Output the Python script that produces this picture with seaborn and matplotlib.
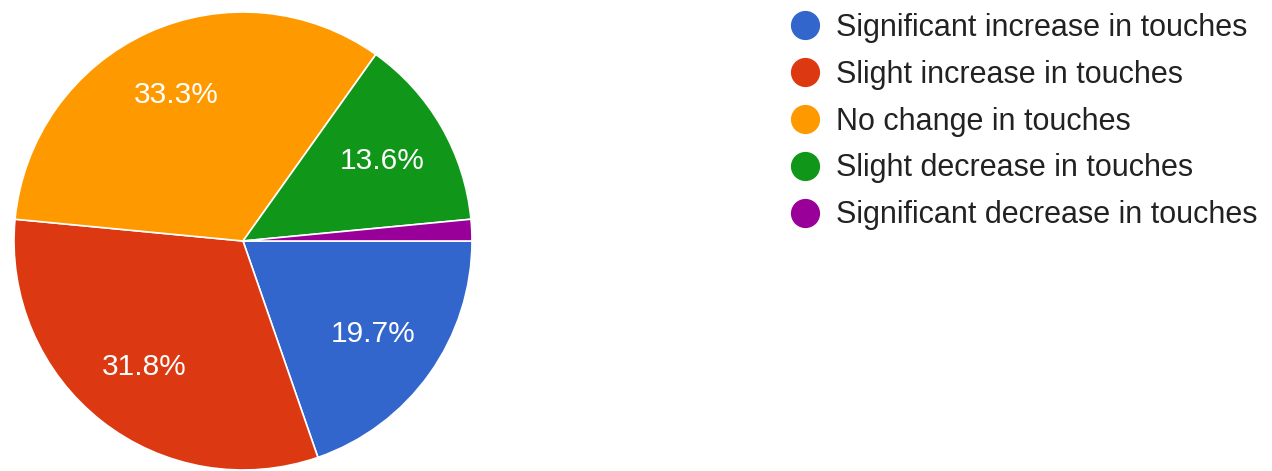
import matplotlib
matplotlib.use("Agg")
from matplotlib import pyplot as plt
from matplotlib.lines import Line2D
import seaborn as sns

# survey answers (66 responses)
categories = [
    "Significant increase in touches",
    "Slight increase in touches",
    "No change in touches",
    "Slight decrease in touches",
    "Significant decrease in touches",
]
counts = [13, 21, 22, 9, 1]
colors = ["#3366cc", "#dc3912", "#ff9900", "#109618", "#990099"]

sns.set_theme(style="white")
plt.rcParams["font.family"] = ["Liberation Sans", "DejaVu Sans"]

fig = plt.figure(figsize=(12.72, 4.71), dpi=100)
W, H = 1272, 471
cx, cy, r = 243, 241, 229
ax = fig.add_axes([(cx - r) / W, (H - cy - r) / H, 2 * r / W, 2 * r / H])


def pct_label(p):
    # google hides labels on tiny slices
    return f"{p:.1f}%" if p >= 5 else ""


wedges, texts, autotexts = ax.pie(
    counts,
    colors=sns.color_palette(colors),
    startangle=0,
    counterclock=False,
    autopct=pct_label,
    pctdistance=0.7,
    wedgeprops=dict(edgecolor="white", linewidth=1.2),
    textprops=dict(color="white", fontsize=21.5),
)
ax.set_xlim(-1, 1)
ax.set_ylim(-1, 1)
ax.set_aspect("equal")
for w in wedges:
    w.set_clip_on(False)

handles = [
    Line2D([], [], marker="o", linestyle="none", markersize=20,
           markerfacecolor=c, markeredgecolor=c)
    for c in colors
]
fig.legend(
    handles, categories,
    loc="upper left", bbox_to_anchor=(790 / W, 1 - 13 / H),
    frameon=False, fontsize=22, labelcolor="#222222",
    handlelength=1.0, handletextpad=0.5, labelspacing=0.55,
    borderaxespad=0, borderpad=0,
)

fig.savefig("out.png", dpi=100, facecolor="white")
